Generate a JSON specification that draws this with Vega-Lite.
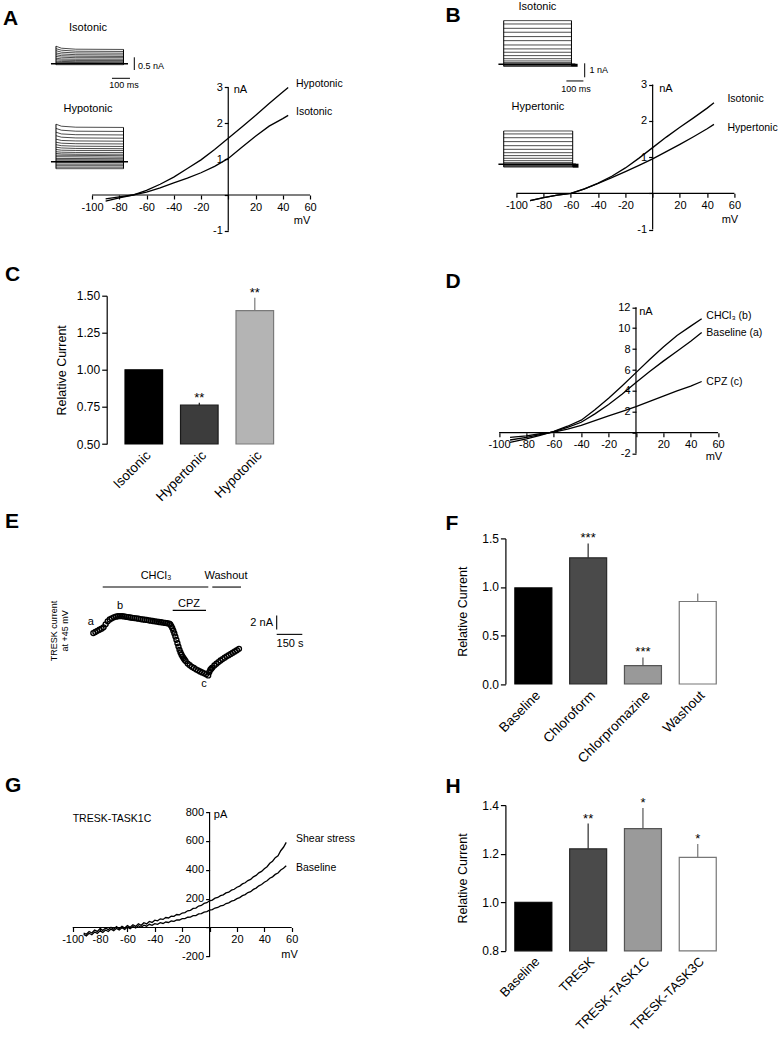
{
"$schema": "https://vega.github.io/schema/vega-lite/v6.json",
"padding": {"left": 3, "top": 0, "right": 5, "bottom": 5},
"background": "white",
"columns": 2,
"spacing": {"row": 64.7, "column": 168.4},
"bounds": "flush",
"align": "each",
"resolve": {"scale": {"fill": "independent", "stroke": "independent"}},
"config": {
  "font": "Liberation Sans",
  "view": {"stroke": null},
  "axis": {"grid": false, "domainColor": "#000000", "tickColor": "#000000", "labelColor": "#000000", "titleColor": "#000000", "labelFontSize": 11, "titleFontSize": 11, "titleFontWeight": "normal", "tickSize": 4, "tickWidth": 1.2, "domainWidth": 1.2, "labelPadding": 2, "labelFlush": false, "labelOverlap": false, "tickCount": 50},
  "title": {"fontSize": 21, "fontWeight": "bold", "anchor": "start", "frame": "group", "offset": 0, "color": "#000000", "baseline": "alphabetic"},
  "text": {"color": "#000000", "fontSize": 11},
  "line": {"color": "#000000", "strokeWidth": 1.3},
  "rule": {"color": "#000000", "strokeWidth": 1.2},
  "bar": {"strokeWidth": 1.2}
},
"datasets": {
  "axA": [{"x1":-100,"x2":60,"y1":0,"y2":0},{"x1":0,"x2":0,"y1":-1,"y2":3}],
  "axD": [{"x1":-100,"x2":60,"y1":0,"y2":0},{"x1":0,"x2":0,"y1":-2,"y2":12}],
  "axG": [{"x1":-100,"x2":60,"y1":0,"y2":0},{"x1":0,"x2":0,"y1":-200,"y2":800}],
  "ivA": [
    {"c":"Hypotonic","v":-90,"i":-0.17},{"c":"Hypotonic","v":-80,"i":-0.08},{"c":"Hypotonic","v":-70,"i":0.0},{"c":"Hypotonic","v":-60,"i":0.13},{"c":"Hypotonic","v":-50,"i":0.3},{"c":"Hypotonic","v":-40,"i":0.5},{"c":"Hypotonic","v":-30,"i":0.74},{"c":"Hypotonic","v":-20,"i":0.98},{"c":"Hypotonic","v":-10,"i":1.27},{"c":"Hypotonic","v":0,"i":1.58},{"c":"Hypotonic","v":10,"i":1.9},{"c":"Hypotonic","v":20,"i":2.22},{"c":"Hypotonic","v":30,"i":2.55},{"c":"Hypotonic","v":40,"i":2.87},{"c":"Hypotonic","v":44,"i":3.0},
    {"c":"Isotonic","v":-90,"i":-0.11},{"c":"Isotonic","v":-80,"i":-0.05},{"c":"Isotonic","v":-70,"i":0.0},{"c":"Isotonic","v":-60,"i":0.08},{"c":"Isotonic","v":-50,"i":0.2},{"c":"Isotonic","v":-40,"i":0.34},{"c":"Isotonic","v":-30,"i":0.47},{"c":"Isotonic","v":-20,"i":0.62},{"c":"Isotonic","v":-10,"i":0.8},{"c":"Isotonic","v":0,"i":1.02},{"c":"Isotonic","v":10,"i":1.33},{"c":"Isotonic","v":20,"i":1.64},{"c":"Isotonic","v":30,"i":1.92},{"c":"Isotonic","v":40,"i":2.13},{"c":"Isotonic","v":44,"i":2.22}
  ],
  "lbA": [{"label":"Hypotonic","v":49.7,"i":3.1},{"label":"Isotonic","v":49.7,"i":2.32}],
  "trA1": [
    {"k":1,"s":0,"t":0,"i":0.70},{"k":1,"s":1,"t":30,"i":0.62},{"k":1,"s":2,"t":110,"i":0.58},{"k":1,"s":3,"t":375,"i":0.57},
    {"k":2,"s":0,"t":0,"i":0.60},{"k":2,"s":1,"t":30,"i":0.54},{"k":2,"s":2,"t":110,"i":0.50},{"k":2,"s":3,"t":375,"i":0.49},
    {"k":3,"s":0,"t":0,"i":0.52},{"k":3,"s":1,"t":30,"i":0.46},{"k":3,"s":2,"t":110,"i":0.43},{"k":3,"s":3,"t":375,"i":0.42},
    {"k":4,"s":0,"t":0,"i":0.43},{"k":4,"s":1,"t":30,"i":0.39},{"k":4,"s":2,"t":110,"i":0.36},{"k":4,"s":3,"t":375,"i":0.35},
    {"k":5,"s":0,"t":0,"i":0.36},{"k":5,"s":1,"t":30,"i":0.32},{"k":5,"s":2,"t":110,"i":0.30},{"k":5,"s":3,"t":375,"i":0.29},
    {"k":6,"s":0,"t":0,"i":0.29},{"k":6,"s":1,"t":30,"i":0.26},{"k":6,"s":2,"t":110,"i":0.24},{"k":6,"s":3,"t":375,"i":0.24},
    {"k":7,"s":0,"t":0,"i":0.22},{"k":7,"s":1,"t":30,"i":0.19},{"k":7,"s":2,"t":110,"i":0.18},{"k":7,"s":3,"t":375,"i":0.18},
    {"k":8,"s":0,"t":0,"i":0.16},{"k":8,"s":1,"t":30,"i":0.14},{"k":8,"s":2,"t":110,"i":0.13},{"k":8,"s":3,"t":375,"i":0.13},
    {"k":9,"s":0,"t":0,"i":0.10},{"k":9,"s":1,"t":30,"i":0.09},{"k":9,"s":2,"t":110,"i":0.08},{"k":9,"s":3,"t":375,"i":0.08},
    {"k":10,"s":0,"t":0,"i":0.05},{"k":10,"s":3,"t":375,"i":0.04},
    {"k":11,"s":0,"t":0,"i":-0.04},{"k":11,"s":3,"t":375,"i":-0.04}
  ],
  "rA1": [{"t1":0,"t2":0,"i1":-0.04,"i2":0.70},{"t1":375,"t2":375,"i1":-0.04,"i2":0.57},{"t1":435,"t2":435,"i1":0.256,"i2":-0.252},{"t1":311,"t2":411,"i1":-0.584,"i2":-0.584}],
  "trA2": [
    {"k":1,"s":0,"t":0,"i":1.50},{"k":1,"s":1,"t":30,"i":1.42},{"k":1,"s":2,"t":110,"i":1.38},{"k":1,"s":3,"t":375,"i":1.37},
    {"k":2,"s":0,"t":0,"i":1.33},{"k":2,"s":1,"t":30,"i":1.26},{"k":2,"s":2,"t":110,"i":1.22},{"k":2,"s":3,"t":375,"i":1.21},
    {"k":3,"s":0,"t":0,"i":1.18},{"k":3,"s":1,"t":30,"i":1.11},{"k":3,"s":2,"t":110,"i":1.08},{"k":3,"s":3,"t":375,"i":1.07},
    {"k":4,"s":0,"t":0,"i":1.04},{"k":4,"s":1,"t":30,"i":0.98},{"k":4,"s":2,"t":110,"i":0.95},{"k":4,"s":3,"t":375,"i":0.94},
    {"k":5,"s":0,"t":0,"i":0.90},{"k":5,"s":1,"t":30,"i":0.85},{"k":5,"s":2,"t":110,"i":0.83},{"k":5,"s":3,"t":375,"i":0.82},
    {"k":6,"s":0,"t":0,"i":0.78},{"k":6,"s":1,"t":30,"i":0.74},{"k":6,"s":2,"t":110,"i":0.72},{"k":6,"s":3,"t":375,"i":0.71},
    {"k":7,"s":0,"t":0,"i":0.68},{"k":7,"s":1,"t":30,"i":0.64},{"k":7,"s":2,"t":110,"i":0.62},{"k":7,"s":3,"t":375,"i":0.61},
    {"k":8,"s":0,"t":0,"i":0.58},{"k":8,"s":1,"t":30,"i":0.55},{"k":8,"s":2,"t":110,"i":0.53},{"k":8,"s":3,"t":375,"i":0.52},
    {"k":9,"s":0,"t":0,"i":0.49},{"k":9,"s":1,"t":30,"i":0.46},{"k":9,"s":2,"t":110,"i":0.45},{"k":9,"s":3,"t":375,"i":0.45},
    {"k":10,"s":0,"t":0,"i":0.40},{"k":10,"s":1,"t":30,"i":0.38},{"k":10,"s":2,"t":110,"i":0.37},{"k":10,"s":3,"t":375,"i":0.37},
    {"k":11,"s":0,"t":0,"i":0.33},{"k":11,"s":1,"t":30,"i":0.31},{"k":11,"s":2,"t":110,"i":0.30},{"k":11,"s":3,"t":375,"i":0.30},
    {"k":12,"s":0,"t":0,"i":0.26},{"k":12,"s":3,"t":375,"i":0.24},
    {"k":13,"s":0,"t":0,"i":0.20},{"k":13,"s":3,"t":375,"i":0.18},
    {"k":14,"s":0,"t":0,"i":0.13},{"k":14,"s":3,"t":375,"i":0.12},
    {"k":15,"s":0,"t":0,"i":0.08},{"k":15,"s":3,"t":375,"i":0.07},
    {"k":16,"s":0,"t":0,"i":0.03},{"k":16,"s":3,"t":375,"i":0.03},
    {"k":17,"s":0,"t":0,"i":-0.04},{"k":17,"s":3,"t":375,"i":-0.04},
    {"k":18,"s":0,"t":0,"i":-0.10},{"k":18,"s":3,"t":375,"i":-0.10},
    {"k":19,"s":0,"t":0,"i":-0.16},{"k":19,"s":3,"t":375,"i":-0.16},
    {"k":20,"s":0,"t":0,"i":-0.22},{"k":20,"s":3,"t":375,"i":-0.22},
    {"k":21,"s":0,"t":0,"i":-0.28},{"k":21,"s":3,"t":375,"i":-0.28}
  ],
  "rA2": [{"t1":0,"t2":0,"i1":-0.28,"i2":1.50},{"t1":375,"t2":375,"i1":-0.28,"i2":1.37}],
  "ivB": [
    {"c":"Isotonic","v":-90,"i":-0.2},{"c":"Isotonic","v":-80,"i":-0.12},{"c":"Isotonic","v":-70,"i":-0.05},{"c":"Isotonic","v":-60,"i":0.0},{"c":"Isotonic","v":-50,"i":0.12},{"c":"Isotonic","v":-40,"i":0.28},{"c":"Isotonic","v":-30,"i":0.47},{"c":"Isotonic","v":-20,"i":0.7},{"c":"Isotonic","v":-10,"i":0.97},{"c":"Isotonic","v":0,"i":1.26},{"c":"Isotonic","v":10,"i":1.55},{"c":"Isotonic","v":20,"i":1.82},{"c":"Isotonic","v":30,"i":2.08},{"c":"Isotonic","v":40,"i":2.35},{"c":"Isotonic","v":45,"i":2.5},
    {"c":"Hypertonic","v":-90,"i":-0.2},{"c":"Hypertonic","v":-80,"i":-0.12},{"c":"Hypertonic","v":-70,"i":-0.05},{"c":"Hypertonic","v":-60,"i":0.0},{"c":"Hypertonic","v":-50,"i":0.12},{"c":"Hypertonic","v":-40,"i":0.27},{"c":"Hypertonic","v":-30,"i":0.43},{"c":"Hypertonic","v":-20,"i":0.6},{"c":"Hypertonic","v":-10,"i":0.77},{"c":"Hypertonic","v":0,"i":0.95},{"c":"Hypertonic","v":10,"i":1.15},{"c":"Hypertonic","v":20,"i":1.35},{"c":"Hypertonic","v":30,"i":1.56},{"c":"Hypertonic","v":40,"i":1.78},{"c":"Hypertonic","v":45,"i":1.9}
  ],
  "lbB": [{"label":"Isotonic","v":54.9,"i":2.6},{"label":"Hypertonic","v":54.9,"i":1.79}],
  "lvB1": [{"i":3.12},{"i":2.88},{"i":2.57},{"i":2.29},{"i":1.98},{"i":1.69},{"i":1.38},{"i":1.10},{"i":0.86},{"i":0.62},{"i":0.40},{"i":0.24},{"i":0.12},{"i":0.02},{"i":-0.05},{"i":-0.1},{"i":-0.15}],
  "rB1": [{"t1":0,"t2":0,"i1":-0.15,"i2":3.12},{"t1":385,"t2":385,"i1":-0.15,"i2":3.12},{"t1":460.2,"t2":460.2,"i1":0.071,"i2":-0.929},{"t1":356.3,"t2":452.8,"i1":-1.19,"i2":-1.19}],
  "lvB2": [{"i":2.38},{"i":2.17},{"i":1.90},{"i":1.62},{"i":1.33},{"i":1.07},{"i":0.83},{"i":0.62},{"i":0.43},{"i":0.26},{"i":0.12},{"i":0.02},{"i":-0.05},{"i":-0.1},{"i":-0.15},{"i":-0.2}],
  "rB2": [{"t1":0,"t2":0,"i1":-0.2,"i2":2.38},{"t1":392,"t2":392,"i1":-0.2,"i2":2.38}],
  "barC": [{"g":"Isotonic","m":1.0,"e":1.0,"sig":""},{"g":"Hypertonic","m":0.762,"e":0.778,"sig":"**"},{"g":"Hypotonic","m":1.40,"e":1.487,"sig":"**"}],
  "ivD": [
    {"c":"CHCl3","v":-92,"i":-0.92},{"c":"CHCl3","v":-80,"i":-0.6},{"c":"CHCl3","v":-70,"i":-0.25},{"c":"CHCl3","v":-63,"i":0},{"c":"CHCl3","v":-60,"i":0.13},{"c":"CHCl3","v":-50,"i":0.62},{"c":"CHCl3","v":-40,"i":1.2},{"c":"CHCl3","v":-30,"i":2.2},{"c":"CHCl3","v":-20,"i":3.3},{"c":"CHCl3","v":-10,"i":4.5},{"c":"CHCl3","v":0,"i":5.75},{"c":"CHCl3","v":10,"i":7.0},{"c":"CHCl3","v":20,"i":8.2},{"c":"CHCl3","v":30,"i":9.3},{"c":"CHCl3","v":40,"i":10.2},{"c":"CHCl3","v":48,"i":10.9},
    {"c":"Baseline","v":-92,"i":-0.7},{"c":"Baseline","v":-80,"i":-0.45},{"c":"Baseline","v":-70,"i":-0.18},{"c":"Baseline","v":-63,"i":0},{"c":"Baseline","v":-60,"i":0.1},{"c":"Baseline","v":-50,"i":0.5},{"c":"Baseline","v":-40,"i":1.0},{"c":"Baseline","v":-30,"i":1.8},{"c":"Baseline","v":-20,"i":2.7},{"c":"Baseline","v":-10,"i":3.7},{"c":"Baseline","v":0,"i":4.8},{"c":"Baseline","v":10,"i":5.85},{"c":"Baseline","v":20,"i":6.85},{"c":"Baseline","v":30,"i":7.8},{"c":"Baseline","v":40,"i":8.75},{"c":"Baseline","v":48,"i":9.6},
    {"c":"CPZ","v":-92,"i":-0.45},{"c":"CPZ","v":-80,"i":-0.3},{"c":"CPZ","v":-70,"i":-0.1},{"c":"CPZ","v":-63,"i":0},{"c":"CPZ","v":-60,"i":0.06},{"c":"CPZ","v":-50,"i":0.35},{"c":"CPZ","v":-40,"i":0.7},{"c":"CPZ","v":-30,"i":1.15},{"c":"CPZ","v":-20,"i":1.6},{"c":"CPZ","v":-10,"i":2.05},{"c":"CPZ","v":0,"i":2.5},{"c":"CPZ","v":10,"i":3.0},{"c":"CPZ","v":20,"i":3.5},{"c":"CPZ","v":30,"i":4.0},{"c":"CPZ","v":40,"i":4.45},{"c":"CPZ","v":48,"i":4.9}
  ],
  "lbD": [{"label":"CHCl₃ (b)","v":51.4,"i":11.17},{"label":"Baseline (a)","v":51.4,"i":9.57},{"label":"CPZ (c)","v":51.4,"i":4.82}],
  "trE": [
    {"t":0,"i":8.19},{"t":12,"i":8.34},{"t":24,"i":8.5},{"t":36,"i":8.66},{"t":48,"i":8.81},{"t":60,"i":9.01},{"t":72,"i":9.44},{"t":84,"i":9.87},{"t":96,"i":10.14},{"t":108,"i":10.29},{"t":120,"i":10.43},{"t":132,"i":10.53},{"t":144,"i":10.59},{"t":156,"i":10.61},{"t":168,"i":10.6},{"t":180,"i":10.56},{"t":192,"i":10.51},{"t":204,"i":10.47},{"t":216,"i":10.41},{"t":228,"i":10.37},{"t":240,"i":10.33},{"t":252,"i":10.29},{"t":264,"i":10.24},{"t":276,"i":10.19},{"t":288,"i":10.14},{"t":300,"i":10.1},{"t":312,"i":10.06},{"t":324,"i":10.01},{"t":336,"i":9.96},{"t":348,"i":9.91},{"t":360,"i":9.87},{"t":372,"i":9.83},{"t":384,"i":9.77},{"t":396,"i":9.73},{"t":408,"i":9.69},{"t":420,"i":9.64},{"t":432,"i":9.59},{"t":444,"i":9.54},{"t":450,"i":9.42},{"t":456,"i":9.19},{"t":462,"i":8.9},{"t":468,"i":8.53},{"t":474,"i":8.13},{"t":480,"i":7.69},{"t":486,"i":7.22},{"t":492,"i":6.73},{"t":498,"i":6.26},{"t":504,"i":5.79},{"t":510,"i":5.42},{"t":516,"i":5.09},{"t":522,"i":4.83},{"t":528,"i":4.59},{"t":534,"i":4.38},{"t":540,"i":4.19},{"t":552,"i":3.83},{"t":564,"i":3.6},{"t":576,"i":3.37},{"t":588,"i":3.2},{"t":600,"i":3.01},{"t":612,"i":2.86},{"t":624,"i":2.71},{"t":636,"i":2.57},{"t":648,"i":2.43},{"t":660,"i":2.29},{"t":672,"i":2.14},{"t":678,"i":2.6},{"t":684,"i":2.91},{"t":690,"i":3.1},{"t":696,"i":3.26},{"t":708,"i":3.56},{"t":720,"i":3.8},{"t":732,"i":4.04},{"t":744,"i":4.27},{"t":756,"i":4.47},{"t":768,"i":4.67},{"t":780,"i":4.86},{"t":792,"i":5.03},{"t":804,"i":5.21},{"t":816,"i":5.39},{"t":828,"i":5.56},{"t":840,"i":5.74},{"t":852,"i":5.93}
  ],
  "rE": [{"t1":55,"t2":672.5,"i1":14.76,"i2":14.76},{"t1":695.9,"t2":863.7,"i1":14.76,"i2":14.76},{"t1":464.3,"t2":659,"i1":11.43,"i2":11.43},{"t1":1072.5,"t2":1072.5,"i1":10.71,"i2":8.71},{"t1":1072.5,"t2":1222.2,"i1":8.0,"i2":8.0}],
  "txE": [{"label":"CHCl₃","t":366.7,"i":16.29},{"label":"Washout","t":776,"i":16.29},{"label":"CPZ","t":559.6,"i":12.39},{"label":"150 s","t":1150.3,"i":6.57},{"label":"a","t":-15.2,"i":9.76},{"label":"b","t":156,"i":12.0},{"label":"c","t":647.4,"i":0.96}],
  "barF": [{"g":"Baseline","m":0.99,"e":0.99,"sig":""},{"g":"Chloroform","m":1.30,"e":1.448,"sig":"***"},{"g":"Chlorpromazine","m":0.19,"e":0.274,"sig":"***"},{"g":"Washout","m":0.85,"e":0.933,"sig":""}],
  "ivG": [
    {"c":"S","v":-92,"i":-38},{"c":"S","v":-90,"i":-47},{"c":"S","v":-88,"i":-28},{"c":"S","v":-86,"i":-38},{"c":"S","v":-84,"i":-18},{"c":"S","v":-82,"i":-27},{"c":"S","v":-80,"i":-8},{"c":"S","v":-78,"i":-20},{"c":"S","v":-76,"i":-3},{"c":"S","v":-74,"i":-15},{"c":"S","v":-72,"i":1},{"c":"S","v":-70,"i":-12},{"c":"S","v":-68,"i":6},{"c":"S","v":-66,"i":-8},{"c":"S","v":-64,"i":9},{"c":"S","v":-62,"i":-4},{"c":"S","v":-60,"i":13},{"c":"S","v":-58,"i":2},{"c":"S","v":-56,"i":19},{"c":"S","v":-54,"i":8},{"c":"S","v":-52,"i":26},{"c":"S","v":-50,"i":15},{"c":"S","v":-48,"i":33},{"c":"S","v":-46,"i":25},{"c":"S","v":-44,"i":42},{"c":"S","v":-42,"i":35},{"c":"S","v":-40,"i":51},{"c":"S","v":-38,"i":46},{"c":"S","v":-36,"i":60},{"c":"S","v":-34,"i":56},{"c":"S","v":-32,"i":69},{"c":"S","v":-30,"i":66},{"c":"S","v":-28,"i":79},{"c":"S","v":-26,"i":77},{"c":"S","v":-24,"i":90},{"c":"S","v":-22,"i":88},{"c":"S","v":-20,"i":100},{"c":"S","v":-18,"i":103},{"c":"S","v":-16,"i":116},{"c":"S","v":-14,"i":119},{"c":"S","v":-12,"i":132},{"c":"S","v":-10,"i":135},{"c":"S","v":-8,"i":149},{"c":"S","v":-6,"i":153},{"c":"S","v":-4,"i":167},{"c":"S","v":-2,"i":172},{"c":"S","v":0,"i":185},{"c":"S","v":2,"i":190},{"c":"S","v":4,"i":203},{"c":"S","v":6,"i":208},{"c":"S","v":8,"i":221},{"c":"S","v":10,"i":226},{"c":"S","v":12,"i":240},{"c":"S","v":14,"i":245},{"c":"S","v":16,"i":259},{"c":"S","v":18,"i":265},{"c":"S","v":20,"i":279},{"c":"S","v":22,"i":287},{"c":"S","v":24,"i":302},{"c":"S","v":26,"i":310},{"c":"S","v":28,"i":325},{"c":"S","v":30,"i":333},{"c":"S","v":32,"i":351},{"c":"S","v":34,"i":361},{"c":"S","v":36,"i":379},{"c":"S","v":38,"i":389},{"c":"S","v":40,"i":407},{"c":"S","v":42,"i":421},{"c":"S","v":44,"i":445},{"c":"S","v":46,"i":459},{"c":"S","v":48,"i":484},{"c":"S","v":50,"i":497},{"c":"S","v":52,"i":532},{"c":"S","v":54,"i":556},{"c":"S","v":56,"i":590},
    {"c":"B","v":-92,"i":-48},{"c":"B","v":-90,"i":-58},{"c":"B","v":-88,"i":-40},{"c":"B","v":-86,"i":-50},{"c":"B","v":-84,"i":-31},{"c":"B","v":-82,"i":-41},{"c":"B","v":-80,"i":-23},{"c":"B","v":-78,"i":-34},{"c":"B","v":-76,"i":-17},{"c":"B","v":-74,"i":-28},{"c":"B","v":-72,"i":-11},{"c":"B","v":-70,"i":-22},{"c":"B","v":-68,"i":-6},{"c":"B","v":-66,"i":-17},{"c":"B","v":-64,"i":-2},{"c":"B","v":-62,"i":-13},{"c":"B","v":-60,"i":3},{"c":"B","v":-58,"i":-8},{"c":"B","v":-56,"i":7},{"c":"B","v":-54,"i":-3},{"c":"B","v":-52,"i":12},{"c":"B","v":-50,"i":2},{"c":"B","v":-48,"i":16},{"c":"B","v":-46,"i":9},{"c":"B","v":-44,"i":22},{"c":"B","v":-42,"i":15},{"c":"B","v":-40,"i":27},{"c":"B","v":-38,"i":22},{"c":"B","v":-36,"i":33},{"c":"B","v":-34,"i":28},{"c":"B","v":-32,"i":38},{"c":"B","v":-30,"i":35},{"c":"B","v":-28,"i":45},{"c":"B","v":-26,"i":43},{"c":"B","v":-24,"i":53},{"c":"B","v":-22,"i":52},{"c":"B","v":-20,"i":61},{"c":"B","v":-18,"i":62},{"c":"B","v":-16,"i":71},{"c":"B","v":-14,"i":72},{"c":"B","v":-12,"i":82},{"c":"B","v":-10,"i":83},{"c":"B","v":-8,"i":94},{"c":"B","v":-6,"i":96},{"c":"B","v":-4,"i":107},{"c":"B","v":-2,"i":110},{"c":"B","v":0,"i":120},{"c":"B","v":2,"i":124},{"c":"B","v":4,"i":135},{"c":"B","v":6,"i":139},{"c":"B","v":8,"i":150},{"c":"B","v":10,"i":153},{"c":"B","v":12,"i":166},{"c":"B","v":14,"i":171},{"c":"B","v":16,"i":183},{"c":"B","v":18,"i":188},{"c":"B","v":20,"i":200},{"c":"B","v":22,"i":207},{"c":"B","v":24,"i":221},{"c":"B","v":26,"i":228},{"c":"B","v":28,"i":242},{"c":"B","v":30,"i":248},{"c":"B","v":32,"i":264},{"c":"B","v":34,"i":273},{"c":"B","v":36,"i":289},{"c":"B","v":38,"i":298},{"c":"B","v":40,"i":314},{"c":"B","v":42,"i":324},{"c":"B","v":44,"i":341},{"c":"B","v":46,"i":351},{"c":"B","v":48,"i":368},{"c":"B","v":50,"i":378},{"c":"B","v":52,"i":398},{"c":"B","v":54,"i":410},{"c":"B","v":56,"i":428}
  ],
  "lbG": [{"label":"Shear stress","v":63.1,"i":612.6},{"label":"Baseline","v":63.1,"i":408.9},{"label":"TRESK-TASK1C","v":-100,"i":755}],
  "barH": [{"g":"Baseline","m":1.0,"e":1.0,"sig":""},{"g":"TRESK","m":1.22,"e":1.324,"sig":"**"},{"g":"TRESK-TASK1C","m":1.303,"e":1.388,"sig":"*"},{"g":"TRESK-TASK3C","m":1.185,"e":1.24,"sig":"*"}]
},
"concat": [
  {
    "width": 238, "height": 147,
    "title": {"text": "A", "dx": -69, "dy": 10.6},
    "layer": [
      {"layer": [
        {"data": {"name": "axA"}, "mark": {"type": "rule", "strokeWidth": 1.2},
         "encoding": {
           "x": {"field": "x1", "type": "quantitative", "scale": {"domain": [-114.68, 60], "nice": false, "zero": false},
                 "axis": {"title": "mV", "values": [-100,-80,-60,-40,-20,0,20,40,60], "tickCount": 50, "labelOverlap": false, "labelExpr": "datum.value === 0 ? '' : '' + datum.value", "domain": false, "offset": -36, "titleX": 229.5, "titleY": 25.7, "titleAlign": "center", "titleBaseline": "middle"}},
           "x2": {"field": "x2"},
           "y": {"field": "y1", "type": "quantitative", "scale": {"domain": [-1.004, 3.096], "nice": false, "zero": false},
                 "axis": {"title": "nA", "values": [-1,0,1,2,3], "tickCount": 50, "labelOverlap": false, "labelExpr": "datum.value === 0 ? '' : '' + datum.value", "domain": false, "offset": -156.25, "titleX": 5, "titleY": 5.3, "titleAngle": 0, "titleAlign": "left", "titleBaseline": "middle"}},
           "y2": {"field": "y2"}}},
        {"data": {"name": "ivA"}, "mark": {"type": "line", "strokeWidth": 1.3},
         "encoding": {"x": {"field": "v", "type": "quantitative"}, "y": {"field": "i", "type": "quantitative"}, "detail": {"field": "c"}}},
        {"data": {"name": "lbA"}, "mark": {"type": "text", "align": "left", "baseline": "middle", "fontSize": 10.5},
         "encoding": {"x": {"field": "v", "type": "quantitative"}, "y": {"field": "i", "type": "quantitative"}, "text": {"field": "label"}}}
      ]},
      {"layer": [
        {"data": {"name": "trA1"}, "mark": {"type": "line", "strokeWidth": 0.7},
         "encoding": {
           "x": {"field": "t", "type": "quantitative", "scale": {"domain": [88.9, 1411.1], "nice": false, "zero": false}, "axis": null},
           "y": {"field": "i", "type": "quantitative", "scale": {"domain": [-6.692, -0.812], "nice": false, "zero": false}, "axis": null},
           "detail": {"field": "k"}, "order": {"field": "s", "type": "quantitative"}}},
        {"data": {"name": "rA1"}, "mark": {"type": "rule", "strokeWidth": 1},
         "encoding": {"x": {"field": "t1", "type": "quantitative"}, "x2": {"field": "t2"}, "y": {"field": "i1", "type": "quantitative"}, "y2": {"field": "i2"}}},
        {"data": {"values": [{}]}, "mark": {"type": "rule", "strokeWidth": 1.6},
         "encoding": {"x": {"datum": -28, "type": "quantitative"}, "x2": {"datum": 400}, "y": {"datum": 0, "type": "quantitative"}}},
        {"data": {"values": [{"label": "Isotonic", "t": 177.8, "i": 1.43}]}, "mark": {"type": "text", "align": "center", "baseline": "middle", "fontSize": 11},
         "encoding": {"x": {"field": "t", "type": "quantitative"}, "y": {"field": "i", "type": "quantitative"}, "text": {"field": "label"}}},
        {"data": {"values": [{"label": "100 ms", "t": 377.8, "i": -0.87}]}, "mark": {"type": "text", "align": "center", "baseline": "middle", "fontSize": 9},
         "encoding": {"x": {"field": "t", "type": "quantitative"}, "y": {"field": "i", "type": "quantitative"}, "text": {"field": "label"}}},
        {"data": {"values": [{"label": "0.5 nA", "t": 455.6, "i": -0.11}]}, "mark": {"type": "text", "align": "left", "baseline": "middle", "fontSize": 9},
         "encoding": {"x": {"field": "t", "type": "quantitative"}, "y": {"field": "i", "type": "quantitative"}, "text": {"field": "label"}}}
      ]},
      {"layer": [
        {"data": {"name": "trA2"}, "mark": {"type": "line", "strokeWidth": 0.7},
         "encoding": {
           "x": {"field": "t", "type": "quantitative", "scale": {"domain": [88.9, 1411.1], "nice": false, "zero": false}, "axis": null},
           "y": {"field": "i", "type": "quantitative", "scale": {"domain": [-2.772, 3.108], "nice": false, "zero": false}, "axis": null},
           "detail": {"field": "k"}, "order": {"field": "s", "type": "quantitative"}}},
        {"data": {"name": "rA2"}, "mark": {"type": "rule", "strokeWidth": 1},
         "encoding": {"x": {"field": "t1", "type": "quantitative"}, "x2": {"field": "t2"}, "y": {"field": "i1", "type": "quantitative"}, "y2": {"field": "i2"}}},
        {"data": {"values": [{}]}, "mark": {"type": "rule", "strokeWidth": 1.6},
         "encoding": {"x": {"datum": -28, "type": "quantitative"}, "x2": {"datum": 400}, "y": {"datum": 0, "type": "quantitative"}}},
        {"data": {"values": [{"label": "Hypotonic", "t": 177.8, "i": 2.11}]}, "mark": {"type": "text", "align": "center", "baseline": "middle", "fontSize": 11},
         "encoding": {"x": {"field": "t", "type": "quantitative"}, "y": {"field": "i", "type": "quantitative"}, "text": {"field": "label"}}}
      ]}
    ],
    "resolve": {"scale": {"x": "independent", "y": "independent"}}
  },
  {
    "width": 239, "height": 147,
    "title": {"text": "B", "dx": -50, "dy": 28.9},
    "layer": [
      {"layer": [
        {"data": {"name": "axA"}, "mark": {"type": "rule", "strokeWidth": 1.2},
         "encoding": {
           "x": {"field": "x1", "type": "quantitative", "scale": {"domain": [-115.41, 60], "nice": false, "zero": false},
                 "axis": {"title": "mV", "values": [-100,-80,-60,-40,-20,0,20,40,60], "tickCount": 50, "labelOverlap": false, "labelExpr": "datum.value === 0 ? '' : '' + datum.value", "domain": false, "offset": -37.7, "titleX": 234, "titleY": 25.7, "titleAlign": "center", "titleBaseline": "middle"}},
           "x2": {"field": "x2"},
           "y": {"field": "y1", "type": "quantitative", "scale": {"domain": [-1.04, 3.015], "nice": false, "zero": false},
                 "axis": {"title": "nA", "values": [-1,0,1,2,3], "tickCount": 50, "labelOverlap": false, "labelExpr": "datum.value === 0 ? '' : '' + datum.value", "domain": false, "offset": -157.25, "titleX": 6, "titleY": 4.3, "titleAngle": 0, "titleAlign": "left", "titleBaseline": "middle"}},
           "y2": {"field": "y2"}}},
        {"data": {"name": "ivB"}, "mark": {"type": "line", "strokeWidth": 1.3},
         "encoding": {"x": {"field": "v", "type": "quantitative"}, "y": {"field": "i", "type": "quantitative"}, "detail": {"field": "c"}}},
        {"data": {"name": "lbB"}, "mark": {"type": "text", "align": "left", "baseline": "middle", "fontSize": 10.5},
         "encoding": {"x": {"field": "v", "type": "quantitative"}, "y": {"field": "i", "type": "quantitative"}, "text": {"field": "label"}}}
      ]},
      {"layer": [
        {"data": {"name": "lvB1"}, "mark": {"type": "rule", "strokeWidth": 0.7},
         "encoding": {
           "x": {"datum": 0, "type": "quantitative", "scale": {"domain": [-47.2, 1310.8], "nice": false, "zero": false}, "axis": null},
           "x2": {"datum": 385},
           "y": {"field": "i", "type": "quantitative", "scale": {"domain": [-11.907, -1.407], "nice": false, "zero": false}, "axis": null}}},
        {"data": {"name": "rB1"}, "mark": {"type": "rule", "strokeWidth": 1},
         "encoding": {"x": {"field": "t1", "type": "quantitative"}, "x2": {"field": "t2"}, "y": {"field": "i1", "type": "quantitative"}, "y2": {"field": "i2"}}},
        {"data": {"values": [{}]}, "mark": {"type": "rule", "strokeWidth": 1.4},
         "encoding": {"x": {"datum": -30, "type": "quantitative"}, "x2": {"datum": 407}, "y": {"datum": 0, "type": "quantitative"}}},
        {"data": {"values": [{}]}, "mark": {"type": "rule", "strokeWidth": 3},
         "encoding": {"x": {"datum": 385, "type": "quantitative"}, "x2": {"datum": 420}, "y": {"datum": -0.07, "type": "quantitative"}}},
        {"data": {"values": [{"label": "Isotonic", "t": 191.5, "i": 4.11}]}, "mark": {"type": "text", "align": "center", "baseline": "middle", "fontSize": 11},
         "encoding": {"x": {"field": "t", "type": "quantitative"}, "y": {"field": "i", "type": "quantitative"}, "text": {"field": "label"}}},
        {"data": {"values": [{"label": "100 ms", "t": 410.2, "i": -1.76}]}, "mark": {"type": "text", "align": "center", "baseline": "middle", "fontSize": 9},
         "encoding": {"x": {"field": "t", "type": "quantitative"}, "y": {"field": "i", "type": "quantitative"}, "text": {"field": "label"}}},
        {"data": {"values": [{"label": "1 nA", "t": 487, "i": -0.41}]}, "mark": {"type": "text", "align": "left", "baseline": "middle", "fontSize": 9},
         "encoding": {"x": {"field": "t", "type": "quantitative"}, "y": {"field": "i", "type": "quantitative"}, "text": {"field": "label"}}}
      ]},
      {"layer": [
        {"data": {"name": "lvB2"}, "mark": {"type": "rule", "strokeWidth": 0.7},
         "encoding": {
           "x": {"datum": 0, "type": "quantitative", "scale": {"domain": [-47.2, 1310.8], "nice": false, "zero": false}, "axis": null},
           "x2": {"datum": 392},
           "y": {"field": "i", "type": "quantitative", "scale": {"domain": [-4.764, 5.736], "nice": false, "zero": false}, "axis": null}}},
        {"data": {"name": "rB2"}, "mark": {"type": "rule", "strokeWidth": 1},
         "encoding": {"x": {"field": "t1", "type": "quantitative"}, "x2": {"field": "t2"}, "y": {"field": "i1", "type": "quantitative"}, "y2": {"field": "i2"}}},
        {"data": {"values": [{}]}, "mark": {"type": "rule", "strokeWidth": 1.4},
         "encoding": {"x": {"datum": -30, "type": "quantitative"}, "x2": {"datum": 410}, "y": {"datum": 0, "type": "quantitative"}}},
        {"data": {"values": [{}]}, "mark": {"type": "rule", "strokeWidth": 4},
         "encoding": {"x": {"datum": 392, "type": "quantitative"}, "x2": {"datum": 425}, "y": {"datum": -0.1, "type": "quantitative"}}},
        {"data": {"values": [{"label": "Hypertonic", "t": 194.3, "i": 4.07}]}, "mark": {"type": "text", "align": "center", "baseline": "middle", "fontSize": 11},
         "encoding": {"x": {"field": "t", "type": "quantitative"}, "y": {"field": "i", "type": "quantitative"}, "text": {"field": "label"}}}
      ]}
    ],
    "resolve": {"scale": {"x": "independent", "y": "independent"}}
  },
  {
    "width": 254.6, "height": 148.3,
    "title": {"text": "C", "dx": -67, "dy": 2.6},
    "data": {"name": "barC"},
    "encoding": {"x": {"field": "g", "type": "nominal", "sort": null, "scale": {"paddingInner": 0.323, "paddingOuter": 0.955},
      "axis": {"title": null, "labelAngle": -45, "ticks": false, "domain": false, "labelFontSize": 13.5, "labelPadding": 4}}},
    "layer": [
      {"mark": {"type": "bar", "strokeWidth": 1.2},
       "encoding": {
         "y": {"field": "m", "type": "quantitative", "scale": {"domain": [0.5, 1.5], "nice": false, "zero": false},
               "axis": {"title": "Relative Current", "values": [0.5, 0.75, 1, 1.25, 1.5], "tickCount": 50, "labelOverlap": false, "format": ".2f", "offset": -34.7, "tickSize": 5, "labelFontSize": 12, "titleFontSize": 12.5, "titlePadding": 8}},
         "y2": {"datum": 0.5},
         "fill": {"field": "g", "type": "nominal", "scale": {"domain": ["Isotonic", "Hypertonic", "Hypotonic"], "range": ["#000000", "#3c3c3c", "#b4b4b4"]}, "legend": null},
         "stroke": {"field": "g", "type": "nominal", "scale": {"domain": ["Isotonic", "Hypertonic", "Hypotonic"], "range": ["#000000", "#1a1a1a", "#7a7a7a"]}, "legend": null}}},
      {"mark": {"type": "rule", "strokeWidth": 1.2},
       "encoding": {"y": {"field": "m", "type": "quantitative"}, "y2": {"field": "e"}, "stroke": {"field": "g", "type": "nominal", "legend": null}}},
      {"mark": {"type": "text", "baseline": "alphabetic", "dy": -1, "fontSize": 13},
       "encoding": {"y": {"field": "e", "type": "quantitative"}, "text": {"field": "sig"}}}
    ]
  },
  {
    "width": 222.7, "height": 177.6,
    "title": {"text": "D", "dx": -50, "dy": 0},
    "layer": [
      {"data": {"name": "axD"}, "mark": {"type": "rule", "strokeWidth": 1.2},
       "encoding": {
         "x": {"field": "x1", "type": "quantitative", "scale": {"domain": [-102.7, 60], "nice": false, "zero": false},
               "axis": {"title": "mV", "values": [-100,-80,-60,-40,-20,0,20,40,60], "tickCount": 50, "labelOverlap": false, "labelExpr": "datum.value === 0 ? '' : '' + datum.value", "domain": false, "offset": -40.6, "titleX": 218, "titleY": 23.3, "titleAlign": "center", "titleBaseline": "middle"}},
         "x2": {"field": "x2"},
         "y": {"field": "y1", "type": "quantitative", "scale": {"domain": [-3.885, 13.11], "nice": false, "zero": false},
               "axis": {"title": "nA", "values": [-2,0,2,4,6,8,10,12], "tickCount": 50, "labelOverlap": false, "labelExpr": "datum.value === 0 ? '' : '' + datum.value", "domain": false, "offset": -140.6, "titleX": 2.7, "titleY": 15.8, "titleAngle": 0, "titleAlign": "left", "titleBaseline": "middle"}},
         "y2": {"field": "y2"}}},
      {"data": {"name": "ivD"}, "mark": {"type": "line", "strokeWidth": 1.3},
       "encoding": {"x": {"field": "v", "type": "quantitative"}, "y": {"field": "i", "type": "quantitative"}, "detail": {"field": "c"}}},
      {"data": {"name": "lbD"}, "mark": {"type": "text", "align": "left", "baseline": "middle", "fontSize": 10.5},
       "encoding": {"x": {"field": "v", "type": "quantitative"}, "y": {"field": "i", "type": "quantitative"}, "text": {"field": "label"}}}
    ]
  },
  {
    "width": 230, "height": 201.6,
    "title": {"text": "E", "dx": -67, "dy": -2},
    "layer": [
      {"data": {"name": "rE"}, "mark": {"type": "rule", "strokeWidth": 1.1},
       "encoding": {
         "x": {"field": "t1", "type": "quantitative", "scale": {"domain": [-124.6, 1220.5], "nice": false, "zero": false}, "axis": null},
         "x2": {"field": "t2"},
         "y": {"field": "i1", "type": "quantitative", "scale": {"domain": [-7.09, 21.71], "nice": false, "zero": false},
               "axis": {"title": ["TRESK current", "at +45 mV"], "labels": false, "ticks": false, "domain": false, "titleFontSize": 9, "titlePadding": 3, "titleY": 92}},
         "y2": {"field": "i2"}}},
      {"data": {"name": "trE"}, "mark": {"type": "point", "shape": "circle", "filled": false, "stroke": "#000000", "strokeWidth": 1.4, "size": 24, "opacity": 1},
       "encoding": {"x": {"field": "t", "type": "quantitative"}, "y": {"field": "i", "type": "quantitative"}}},
      {"data": {"name": "txE"}, "mark": {"type": "text", "align": "center", "baseline": "middle", "fontSize": 11},
       "encoding": {"x": {"field": "t", "type": "quantitative"}, "y": {"field": "i", "type": "quantitative"}, "text": {"field": "label"}}},
      {"data": {"values": [{"label": "2 nA", "t": 1050.9, "i": 9.67}]}, "mark": {"type": "text", "align": "right", "baseline": "middle", "fontSize": 11},
       "encoding": {"x": {"field": "t", "type": "quantitative"}, "y": {"field": "i", "type": "quantitative"}, "text": {"field": "label"}}}
    ]
  },
  {
    "width": 240.3, "height": 145.6,
    "title": {"text": "F", "dx": -50, "dy": 5.6},
    "data": {"name": "barF"},
    "encoding": {"x": {"field": "g", "type": "nominal", "sort": null, "scale": {"paddingInner": 0.325, "paddingOuter": 0.355},
      "axis": {"title": null, "labelAngle": -45, "ticks": false, "domain": false, "labelFontSize": 13.5, "labelPadding": 4}}},
    "layer": [
      {"mark": {"type": "bar", "strokeWidth": 1.2},
       "encoding": {
         "y": {"field": "m", "type": "quantitative", "scale": {"domain": [0, 1.5], "nice": false, "zero": false},
               "axis": {"title": "Relative Current", "values": [0, 0.5, 1, 1.5], "tickCount": 50, "labelOverlap": false, "format": ".1f", "offset": -10, "tickSize": 5, "labelFontSize": 12, "titleFontSize": 12.5, "titlePadding": 12}},
         "y2": {"datum": 0},
         "fill": {"field": "g", "type": "nominal", "scale": {"domain": ["Baseline", "Chloroform", "Chlorpromazine", "Washout"], "range": ["#000000", "#4a4a4a", "#999999", "#ffffff"]}, "legend": null},
         "stroke": {"field": "g", "type": "nominal", "scale": {"domain": ["Baseline", "Chloroform", "Chlorpromazine", "Washout"], "range": ["#000000", "#2a2a2a", "#555555", "#777777"]}, "legend": null}}},
      {"mark": {"type": "rule", "strokeWidth": 1.2},
       "encoding": {"y": {"field": "m", "type": "quantitative"}, "y2": {"field": "e"}, "stroke": {"field": "g", "type": "nominal", "legend": null}}},
      {"mark": {"type": "text", "baseline": "alphabetic", "dy": -1, "fontSize": 13},
       "encoding": {"y": {"field": "e", "type": "quantitative"}, "text": {"field": "sig"}}}
    ]
  },
  {
    "width": 219.7, "height": 153,
    "title": {"text": "G", "dx": -67, "dy": -5.2},
    "layer": [
      {"data": {"name": "axG"}, "mark": {"type": "rule", "strokeWidth": 1.2},
       "encoding": {
         "x": {"field": "x1", "type": "quantitative", "scale": {"domain": [-100.5, 60], "nice": false, "zero": false},
               "axis": {"title": "mV", "values": [-100,-80,-60,-40,-20,0,20,40,60], "tickCount": 50, "labelOverlap": false, "labelExpr": "datum.value === 0 ? '' : '' + datum.value", "domain": false, "offset": -30.6, "titleX": 217, "titleY": 27.3, "titleAlign": "center", "titleBaseline": "middle"}},
         "x2": {"field": "x2"},
         "y": {"field": "y1", "type": "quantitative", "scale": {"domain": [-212, 848.2], "nice": false, "zero": false},
               "axis": {"title": "pA", "values": [-200,0,200,400,600,800], "tickCount": 50, "labelOverlap": false, "labelExpr": "datum.value === 0 ? '' : '' + datum.value", "domain": false, "offset": -137.6, "titleX": 3.7, "titleY": 9, "titleAngle": 0, "titleAlign": "left", "titleBaseline": "middle"}},
         "y2": {"field": "y2"}}},
      {"data": {"name": "ivG"}, "mark": {"type": "line", "strokeWidth": 1.3},
       "encoding": {"x": {"field": "v", "type": "quantitative"}, "y": {"field": "i", "type": "quantitative"}, "detail": {"field": "c"}}},
      {"data": {"name": "lbG"}, "mark": {"type": "text", "align": "left", "baseline": "middle", "fontSize": 10.5},
       "encoding": {"x": {"field": "v", "type": "quantitative"}, "y": {"field": "i", "type": "quantitative"}, "text": {"field": "label"}}}
    ]
  },
  {
    "width": 240.3, "height": 145.7,
    "title": {"text": "H", "dx": -50, "dy": 3.8},
    "data": {"name": "barH"},
    "encoding": {"x": {"field": "g", "type": "nominal", "sort": null, "scale": {"paddingInner": 0.325, "paddingOuter": 0.355},
      "axis": {"title": null, "labelAngle": -45, "ticks": false, "domain": false, "labelFontSize": 13, "labelPadding": 4}}},
    "layer": [
      {"mark": {"type": "bar", "strokeWidth": 1.2},
       "encoding": {
         "y": {"field": "m", "type": "quantitative", "scale": {"domain": [0.8, 1.4], "nice": false, "zero": false},
               "axis": {"title": "Relative Current", "values": [0.8, 1.0, 1.2, 1.4], "tickCount": 50, "labelOverlap": false, "format": ".1f", "offset": -10, "tickSize": 5, "labelFontSize": 12, "titleFontSize": 12.5, "titlePadding": 12}},
         "y2": {"datum": 0.8},
         "fill": {"field": "g", "type": "nominal", "scale": {"domain": ["Baseline", "TRESK", "TRESK-TASK1C", "TRESK-TASK3C"], "range": ["#000000", "#4a4a4a", "#9a9a9a", "#ffffff"]}, "legend": null},
         "stroke": {"field": "g", "type": "nominal", "scale": {"domain": ["Baseline", "TRESK", "TRESK-TASK1C", "TRESK-TASK3C"], "range": ["#000000", "#2a2a2a", "#555555", "#777777"]}, "legend": null}}},
      {"mark": {"type": "rule", "strokeWidth": 1.2},
       "encoding": {"y": {"field": "m", "type": "quantitative"}, "y2": {"field": "e"}, "stroke": {"field": "g", "type": "nominal", "legend": null}}},
      {"mark": {"type": "text", "baseline": "alphabetic", "dy": -1, "fontSize": 13},
       "encoding": {"y": {"field": "e", "type": "quantitative"}, "text": {"field": "sig"}}}
    ]
  }
]
}
